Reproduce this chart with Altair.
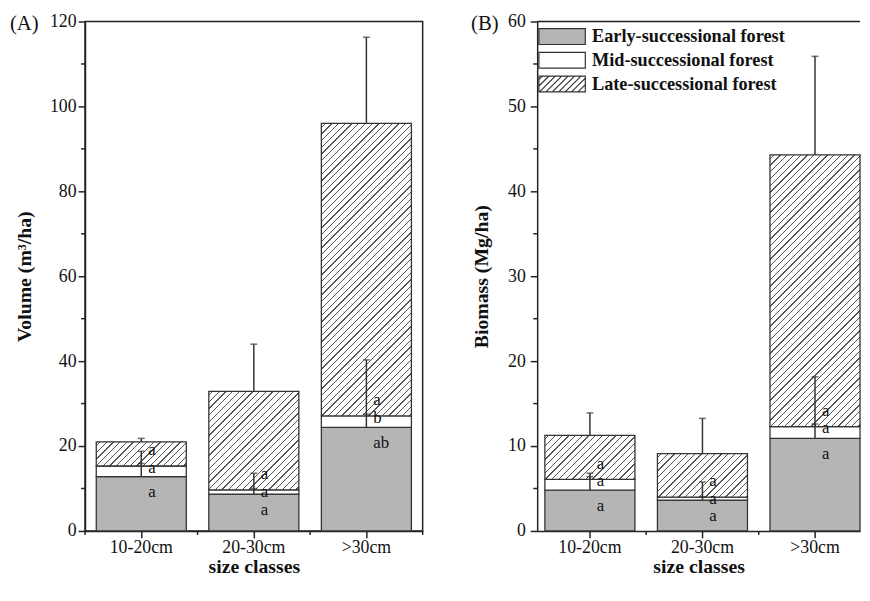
import altair as alt
import pandas as pd

# ---------------- data ----------------
categories = ["10-20cm", "20-30cm", ">30cm"]
forest_types = ["Early-successional forest", "Mid-successional forest", "Late-successional forest"]

# Volume (m3/ha): stacked segment values, errors (+SE) and letters
vol_early = [12.8, 8.7, 24.4]
vol_mid = [2.5, 1.0, 2.7]
vol_late = [5.7, 23.2, 68.9]
vol_early_err = [3.1, 1.3, 3.1]
vol_mid_err = [3.45, 3.9, 13.2]
vol_late_err = [0.8, 11.1, 20.3]
vol_early_let = ["a", "a", "ab"]
vol_mid_let = ["a", "a", "b"]
vol_late_let = ["a", "a", "a"]

# Biomass (Mg/ha)
bio_early = [4.8, 3.64, 10.9]
bio_mid = [1.27, 0.34, 1.4]
bio_late = [5.18, 5.12, 32.0]
bio_early_err = [1.6, 0.4, 1.7]
bio_mid_err = [0.73, 1.78, 5.85]
bio_late_err = [2.65, 4.16, 11.6]
bio_early_let = ["a", "a", "a"]
bio_mid_let = ["a", "a", "a"]
bio_late_let = ["a", "a", "a"]

# ---------------- style ----------------
FONT = "Liberation Serif"
W, H = 342, 516
W_RIGHT = 327            # right panel is cut at the page edge, as in the reference
STEP = W / 3.0
GRAY = "#b5b5b5"
EDGE = "#333333"
INK = "#111111"
HATCH = "#555555"
AXIS = "#222222"


def build(early, mid, late, e_err, m_err, l_err, e_let, m_let, l_let):
    rows = []
    for i, cat in enumerate(categories):
        lo = 0.0
        for t, vals, errs, lets in zip(forest_types, (early, mid, late),
                                       (e_err, m_err, l_err), (e_let, m_let, l_let)):
            v = vals[i]
            hi = lo + v
            rows.append(dict(size=cat, type=t, value=v, lo=lo, hi=hi, err=errs[i],
                             etop=hi + errs[i], letter=lets[i],
                             anchor=lo if t == forest_types[2] else hi))
            lo = hi
    return pd.DataFrame(rows)


def hatch_gradient(w, h, spacing=6.8, thick=1.3):
    L = w + h
    d = w * w + h * h
    stops = [{"offset": 0, "color": "#ffffff"}]
    p = spacing * 0.5
    while p + thick < L:
        a = round(p / L, 5)
        b = round((p + thick) / L, 5)
        stops += [{"offset": a, "color": "#ffffff"}, {"offset": a, "color": HATCH},
                  {"offset": b, "color": HATCH}, {"offset": b, "color": "#ffffff"}]
        p += spacing
    stops.append({"offset": 1, "color": "#ffffff"})
    return {"gradient": "linear", "x1": 0, "y1": 0,
            "x2": round(w * L / d, 5), "y2": round(h * L / d, 5), "stops": stops}


def legend_paths():
    X = 47 / 16.0
    rect = f"M{-X},-1H{X}V1H{-X}Z"
    lines = []
    c = -X - 1 + 0.45
    while c < X + 1:
        ylo = max(-1.0, c - X)
        yhi = min(1.0, c + X)
        if yhi - ylo > 0.05:
            lines.append(f"M{c - yhi:.3f},{yhi:.3f}L{c - ylo:.3f},{ylo:.3f}")
        c += 6.5 / 8.0
    return [rect, rect, rect + "".join(lines)]


def panel(df, late_vals, ymax, major, minor, ytitle, tag, tag_x, lab_pad, title_pad,
          with_legend, view_w):
    cut = view_w < W
    yscale = alt.Scale(domain=[0, ymax], nice=False, zero=True)
    if cut:
        # same step and bar width as the full panel, the last bar reaching the page edge
        po = (view_w / STEP - 2.8) / 2.0
        xscale = alt.Scale(domain=categories, paddingInner=0.2, paddingOuter=po, align=1)
    else:
        xscale = alt.Scale(domain=categories, paddingInner=0.2, paddingOuter=0.1)
    x_main = alt.X("size:N", scale=xscale,
                   axis=alt.Axis(title="size classes", labelAngle=0, tickSize=7,
                                 labelPadding=1, titlePadding=0))
    x_plain = alt.X("size:N", scale=xscale, axis=None)
    y_main = alt.Y("lo:Q", scale=yscale,
                   axis=alt.Axis(title=ytitle, values=list(range(0, ymax + 1, major)),
                                 tickSize=7, labelOverlap=False, labelPadding=lab_pad,
                                 titlePadding=title_pad))

    def yq(field):
        return alt.Y(f"{field}:Q", scale=yscale, axis=None)

    base = alt.Chart(df)
    layers = []
    layers.append(base.transform_filter(alt.datum.type == forest_types[0])
                  .mark_bar(fill=GRAY, stroke=EDGE, strokeWidth=1.3)
                  .encode(x=x_main, y=y_main, y2="hi:Q"))
    layers.append(base.transform_filter(alt.datum.type == forest_types[1])
                  .mark_bar(fill="#ffffff", stroke=EDGE, strokeWidth=1.3)
                  .encode(x=x_plain, y=yq("lo"), y2="hi:Q"))
    bw = 0.8 * STEP
    for i, cat in enumerate(categories):
        hpx = late_vals[i] * H / ymax
        layers.append(base.transform_filter((alt.datum.type == forest_types[2]) & (alt.datum.size == cat))
                      .mark_bar(fill=hatch_gradient(bw, hpx), stroke=EDGE, strokeWidth=1.3)
                      .encode(x=x_plain, y=yq("lo"), y2="hi:Q"))
    # error bars
    layers.append(base.mark_rule(color=EDGE, strokeWidth=1.5)
                  .encode(x=x_plain, y=yq("hi"), y2="etop:Q"))
    layers.append(base.mark_tick(color=EDGE, thickness=1.5, size=7)
                  .encode(x=x_plain, y=yq("etop")))
    # minor ticks
    ticks_x = pd.DataFrame({"size": categories[1:] if cut else categories})
    layers.append(alt.Chart(ticks_x).mark_rule(color=AXIS, strokeWidth=1.5, xOffset=-0.1 * STEP)
                  .encode(x=alt.X("size:N", scale=xscale, axis=None, bandPosition=0),
                          y=alt.value(H), y2=alt.value(H + 4)))
    if not cut:
        layers.append(alt.Chart(ticks_x.tail(1)).mark_rule(color=AXIS, strokeWidth=1.5, xOffset=0.1 * STEP)
                      .encode(x=alt.X("size:N", scale=xscale, axis=None, bandPosition=1),
                              y=alt.value(H), y2=alt.value(H + 4)))
    ticks_y = pd.DataFrame({"v": list(range(minor, ymax, major))})
    layers.append(alt.Chart(ticks_y).mark_rule(color=AXIS, strokeWidth=1.5)
                  .encode(y=yq("v"), x=alt.value(-4), x2=alt.value(0)))
    if cut:
        # frame line of the cut panel (top only; its right side is off the page)
        frame = pd.DataFrame({"k": [0]})
        layers.append(alt.Chart(frame).mark_rule(color=AXIS, strokeWidth=1.5)
                      .encode(x=alt.value(0), x2=alt.value(view_w), y=alt.value(0)))
    # letters
    for t, dy in zip(forest_types, (16, 2, -16)):
        layers.append(base.transform_filter(alt.datum.type == t)
                      .mark_text(align="left", baseline="middle", dx=7, dy=dy,
                                 font=FONT, fontSize=17, color=INK)
                      .encode(x=x_plain, y=yq("anchor"), text="letter:N"))
    layers.append(alt.Chart(pd.DataFrame({"tag": [tag]}))
                  .mark_text(align="left", baseline="middle", font=FONT, fontSize=21, color=INK)
                  .encode(x=alt.value(tag_x), y=alt.value(3), text="tag:N"))
    if with_legend:
        leg = alt.Legend(title=None, orient="top-left", offset=6, padding=0,
                         symbolSize=256, symbolStrokeColor=EDGE, symbolStrokeWidth=1.2,
                         symbolOpacity=1, symbolOffset=10, labelOffset=21,
                         labelFont=FONT, labelFontSize=18.5, labelFontWeight="bold",
                         labelColor=INK, rowPadding=2, labelLimit=400)
        layers.insert(0, alt.Chart(pd.DataFrame({"type": forest_types}))
                      .mark_point(filled=True, opacity=0, strokeWidth=1.2)
                      .encode(x=alt.value(0), y=alt.value(0),
                              fill=alt.Fill("type:N", scale=alt.Scale(domain=forest_types,
                                                                      range=[GRAY, "#ffffff", "#ffffff"]),
                                            legend=leg),
                              stroke=alt.Stroke("type:N", scale=alt.Scale(domain=forest_types,
                                                                          range=[EDGE, EDGE, EDGE]),
                                                legend=leg),
                              shape=alt.Shape("type:N", scale=alt.Scale(domain=forest_types,
                                                                        range=legend_paths()),
                                              legend=leg)))
    ch = (alt.layer(*layers)
          .resolve_axis(x="independent", y="independent")
          .properties(width=view_w, height=H))
    if cut:
        ch = ch.properties(view=alt.ViewBackground(stroke="transparent"))
    return ch


vol_df = build(vol_early, vol_mid, vol_late, vol_early_err, vol_mid_err, vol_late_err,
               vol_early_let, vol_mid_let, vol_late_let)
bio_df = build(bio_early, bio_mid, bio_late, bio_early_err, bio_mid_err, bio_late_err,
               bio_early_let, bio_mid_let, bio_late_let)

left = panel(vol_df, vol_late, 120, 20, 10, "Volume (m³/ha)", "(A)", -76, 2, 15, False, W)
right = panel(bio_df, bio_late, 60, 10, 5, "Biomass (Mg/ha)", "(B)", -67, 5, 16, True, W_RIGHT)

chart = (alt.hconcat(left, right, spacing=46)
         .resolve_scale(fill="independent", shape="independent", stroke="independent")
         .resolve_legend(fill="independent", shape="independent", stroke="independent")
         .properties(padding={"left": 1, "top": 0, "right": 0, "bottom": 0})
         .configure_view(stroke=AXIS, strokeWidth=1.5)
         .configure_axis(domainColor=AXIS, domainWidth=1.5, tickColor=AXIS,
                         tickWidth=1.5, labelFont=FONT, labelFontSize=18, labelColor=INK,
                         titleFont=FONT, titleFontSize=20, titleFontWeight="bold",
                         titleColor=INK, grid=False))

chart.save("out.html", embed_options={"renderer": "svg", "actions": False})
